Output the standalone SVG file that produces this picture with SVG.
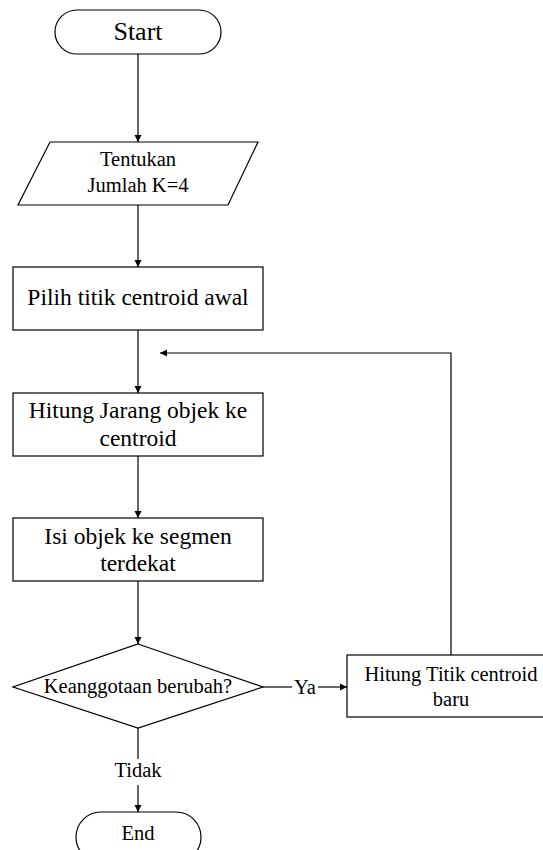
<svg xmlns="http://www.w3.org/2000/svg" width="543" height="850" viewBox="0 0 543 850">
<defs>
<marker id="ah" markerWidth="8" markerHeight="8" refX="7" refY="4" orient="auto" markerUnits="userSpaceOnUse">
<path d="M0,0.5 L7,4 L0,7.5 Z" fill="#000"/>
</marker>
</defs>
<style>
.s{fill:#fff;stroke:#000;stroke-width:1.2}
.t{fill:#000;text-anchor:middle;font-family:"Liberation Serif","Times New Roman",serif}
.big{font-size:23.5px}
.med{font-size:20.5px}
.c{fill:none;stroke:#000;stroke-width:1.2}
</style>
<rect width="543" height="850" fill="#fff"/>
<g id="connectors">
<line class="c" x1="138" y1="54" x2="138" y2="142" marker-end="url(#ah)"/>
<line class="c" x1="138" y1="205" x2="138" y2="267" marker-end="url(#ah)"/>
<line class="c" x1="138" y1="330" x2="138" y2="393" marker-end="url(#ah)"/>
<line class="c" x1="138" y1="456" x2="138" y2="518" marker-end="url(#ah)"/>
<line class="c" x1="138" y1="581" x2="138" y2="644" marker-end="url(#ah)"/>
<line class="c" x1="263" y1="687" x2="292" y2="687"/>
<line class="c" x1="318" y1="687" x2="347" y2="687" marker-end="url(#ah)"/>
<polyline class="c" points="451,655 451,353 160,353" marker-end="url(#ah)"/>
<line class="c" x1="138" y1="728" x2="138" y2="759"/>
<line class="c" x1="138" y1="785" x2="138" y2="812" marker-end="url(#ah)"/>
<text class="t med" x="305" y="694">Ya</text>
<text class="t med" x="138" y="777">Tidak</text>
</g>
<g id="start">
<rect class="s" x="55" y="10" width="166" height="44" rx="22" ry="22"/>
<text class="t" x="138" y="40" font-size="26">Start</text>
</g>
<g id="input">
<polygon class="s" points="50,142 258,142 228,205 18,205"/>
<text class="t med" x="138" y="166">Tentukan</text>
<text class="t med" x="138" y="192">Jumlah K=4</text>
</g>
<g id="pilih">
<rect class="s" x="13" y="267" width="250" height="63"/>
<text class="t big" x="138" y="305">Pilih titik centroid awal</text>
</g>
<g id="hitung-jarak">
<rect class="s" x="13" y="393" width="250" height="63"/>
<text class="t big" x="138" y="418">Hitung Jarang objek ke</text>
<text class="t big" x="138" y="446">centroid</text>
</g>
<g id="isi">
<rect class="s" x="13" y="518" width="250" height="63"/>
<text class="t big" x="138" y="544">Isi objek ke segmen</text>
<text class="t big" x="138" y="571">terdekat</text>
</g>
<g id="decision">
<polygon class="s" points="138,644 263,687 138,728 13,687"/>
<text class="t med" x="138" y="693">Keanggotaan berubah?</text>
</g>
<g id="hitung-titik">
<rect class="s" x="347" y="655" width="210" height="62"/>
<text class="t med" x="451" y="681">Hitung Titik centroid</text>
<text class="t med" x="451" y="706">baru</text>
</g>
<g id="end">
<rect class="s" x="76" y="812" width="125" height="50" rx="25" ry="25"/>
<text class="t med" x="138" y="840">End</text>
</g>
</svg>
